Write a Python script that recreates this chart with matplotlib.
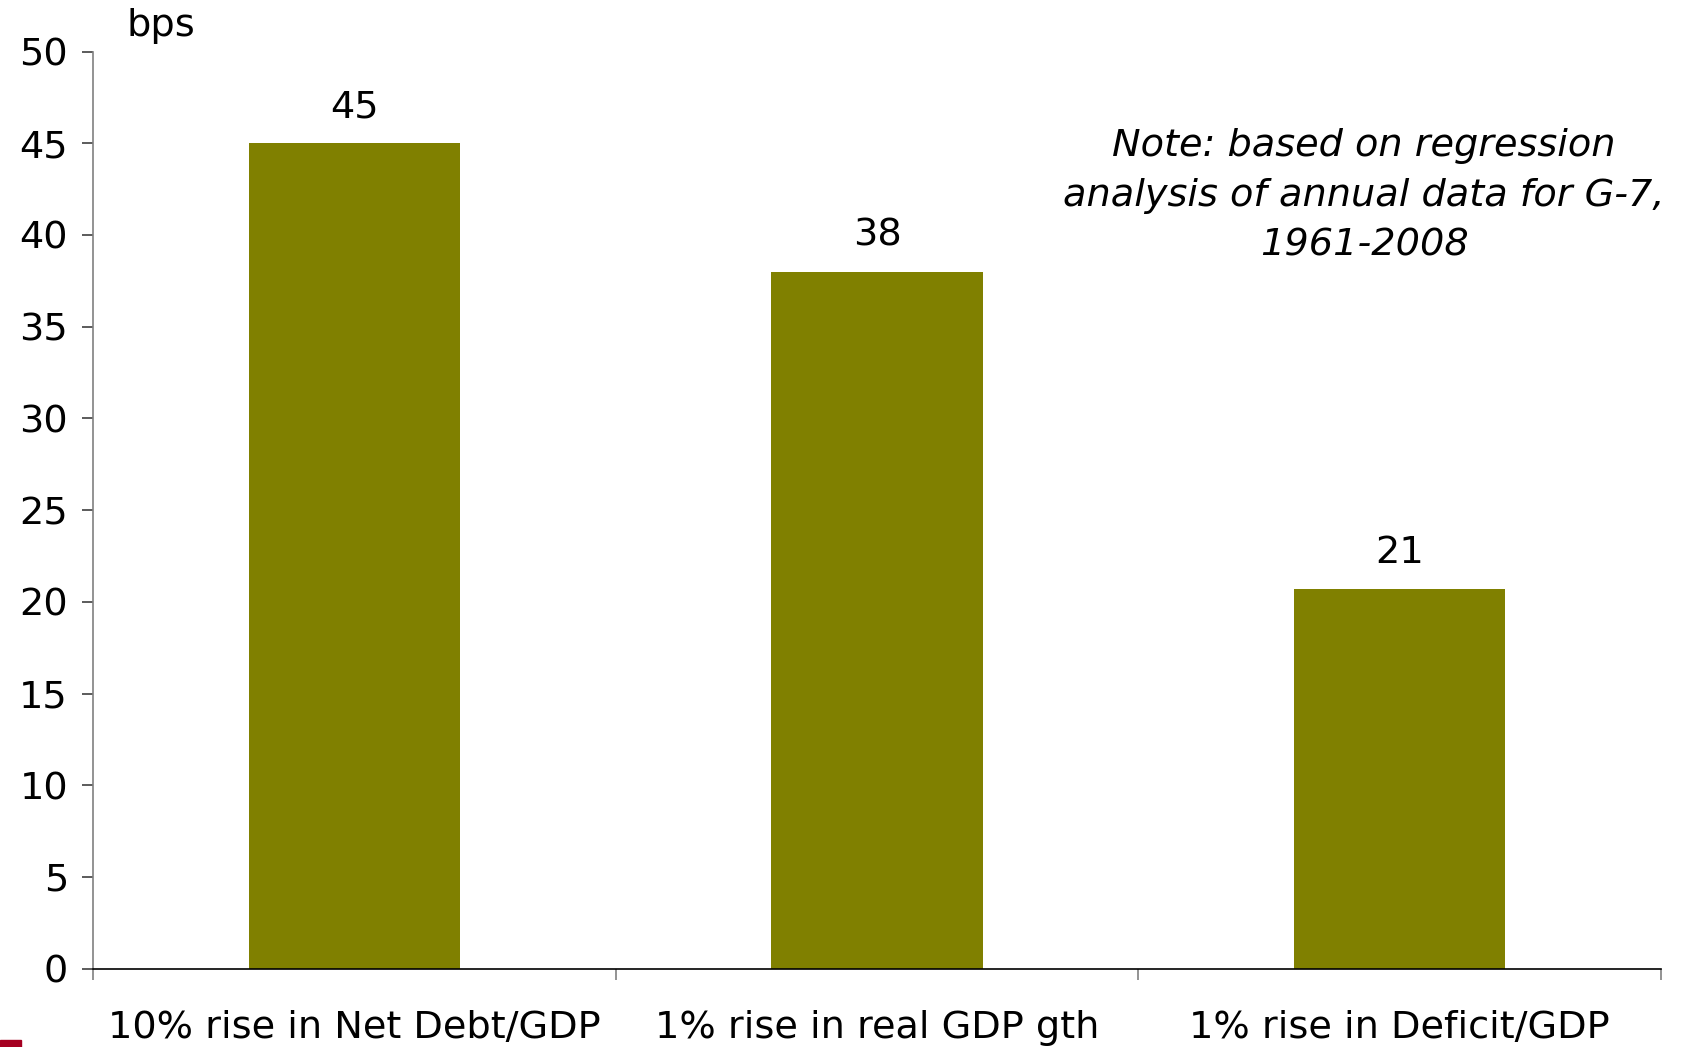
import matplotlib
matplotlib.use("Agg")
import matplotlib.pyplot as plt
from matplotlib.patches import Rectangle

categories = ["10% rise in Net Debt/GDP", "1% rise in real GDP gth", "1% rise in Deficit/GDP"]
values = [45.0, 38.0, 20.7]
value_labels = ["45", "38", "21"]
y_ticks = [0, 5, 10, 15, 20, 25, 30, 35, 40, 45, 50]

bar_color = "#808000"
plt.rcParams['font.family'] = ['DejaVu Sans']
FS = 27.5

fig = plt.figure(figsize=(16.82, 10.47), dpi=100)
ax = fig.add_axes([0.0553, 0.0748, 0.9322, 0.876])

x = list(range(len(categories)))
ax.bar(x, values, width=0.405, color=bar_color, zorder=2)

for xi, v, lab in zip(x, values, value_labels):
    ax.annotate(lab, (xi, v), xytext=(0, 13), textcoords="offset points",
                ha="center", va="bottom", fontsize=FS)

ax.set_xlim(-0.5, 2.5)
ax.set_ylim(0, 50)
ax.set_yticks(y_ticks)
ax.set_yticklabels([str(t) for t in y_ticks], fontsize=FS)
ax.set_xticks(x)
ax.set_xticklabels(categories, fontsize=FS)
ax.tick_params(axis="x", which="major", length=0, pad=30)
ax.set_xticks([-0.5, 0.5, 1.5, 2.5], minor=True)
ax.tick_params(axis="x", which="minor", length=8, width=1.2, color="#808080", direction="out")
ax.tick_params(axis="y", length=8, width=1.2, color="#404040", pad=10)

for s in ["top", "right"]:
    ax.spines[s].set_visible(False)
ax.spines["left"].set_color("#808080")
ax.spines["left"].set_linewidth(1.2)
ax.spines["bottom"].set_color("black")
ax.spines["bottom"].set_linewidth(1.2)

fig.text(126/1682, 1 - 26/1047, "bps", fontsize=FS, ha="left", va="center")

fig.text(1364/1682, 1 - 196/1047,
         "Note: based on regression\nanalysis of annual data for G-7,\n1961-2008",
         fontsize=FS, style="italic", ha="center", va="center", linespacing=1.5)

fig.patches.append(Rectangle((0, 0), 21/1682, 7/1047, transform=fig.transFigure,
                             color="#A50021", zorder=5))

fig.savefig("out.png", dpi=100)
